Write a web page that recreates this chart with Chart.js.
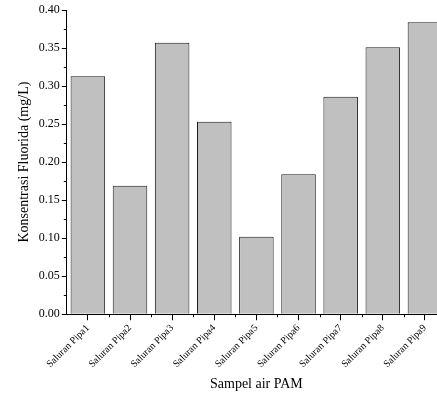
<!DOCTYPE html>
<html>
<head>
<meta charset="utf-8">
<script src="https://cdn.jsdelivr.net/npm/chart.js@4/dist/chart.umd.min.js"></script>
<style>
  html, body { margin: 0; padding: 0; background: #fff; overflow: hidden; }
  #wrap { width: 446px; height: 396px; }
</style>
</head>
<body>
<div id="wrap"><canvas id="fluoridaChart"></canvas></div>
<script>
const categories = ['Saluran Pipa1', 'Saluran Pipa2', 'Saluran Pipa3', 'Saluran Pipa4', 'Saluran Pipa5',
                    'Saluran Pipa6', 'Saluran Pipa7', 'Saluran Pipa8', 'Saluran Pipa9'];
const fluorida = [0.313, 0.169, 0.357, 0.253, 0.102, 0.184, 0.286, 0.351, 0.384];
const yTicks = [0.00, 0.05, 0.10, 0.15, 0.20, 0.25, 0.30, 0.35, 0.40];

const serif = "'Liberation Serif', 'Times New Roman', serif";

// small ticks: between y labels, and at category boundaries on x
const minorTicks = {
  id: 'minorTicks',
  afterDraw(chart) {
    const ctx = chart.ctx;
    const x = chart.scales.x, y = chart.scales.y;
    ctx.save();
    ctx.strokeStyle = '#000';
    ctx.lineWidth = 1;
    ctx.beginPath();
    for (let i = 0; i < yTicks.length - 1; i++) {
      const py = Math.round(y.getPixelForValue((yTicks[i] + yTicks[i + 1]) / 2)) + 0.5;
      ctx.moveTo(x.left - 3, py);
      ctx.lineTo(x.left, py);
    }
    for (let i = 1; i < categories.length; i++) {
      const px = Math.round((x.getPixelForValue(i - 1) + x.getPixelForValue(i)) / 2) + 0.5;
      ctx.moveTo(px, y.bottom);
      ctx.lineTo(px, y.bottom + 3);
    }
    ctx.stroke();
    ctx.restore();
  }
};

new Chart(document.getElementById('fluoridaChart').getContext('2d'), {
  type: 'bar',
  data: {
    labels: categories,
    datasets: [{
      data: fluorida,
      backgroundColor: '#c0c0c0',
      borderColor: '#1a1a1a',
      borderWidth: 1,
      barPercentage: 0.82,
      categoryPercentage: 1.0
    }]
  },
  options: {
    responsive: true,
    maintainAspectRatio: false,
    animation: false,
    layout: { padding: { top: 10, right: 0, left: 16, bottom: 3 } },
    plugins: {
      legend: { display: false },
      tooltip: { enabled: false }
    },
    scales: {
      x: {
        grid: { display: true, drawOnChartArea: false, offset: false, tickLength: 6, color: '#000' },
        border: { color: '#000', width: 1 },
        ticks: {
          color: '#000',
          font: { family: serif, size: 10 },
          minRotation: 45,
          maxRotation: 45,
          padding: 2
        },
        title: {
          display: true,
          text: 'Sampel air PAM',
          color: '#000',
          font: { family: serif, size: 14 },
          padding: { top: 4, bottom: 0 }
        }
      },
      y: {
        min: 0,
        max: 0.4,
        grid: { display: true, drawOnChartArea: false, tickLength: 5, color: '#000' },
        border: { color: '#000', width: 1 },
        afterBuildTicks: (axis) => { axis.ticks = yTicks.map(v => ({ value: v })); },
        ticks: {
          color: '#000',
          font: { family: serif, size: 12 },
          padding: 2,
          callback: (v) => Number(v).toFixed(2)
        },
        title: {
          display: true,
          text: 'Konsentrasi Fluorida (mg/L)',
          color: '#000',
          font: { family: serif, size: 14 },
          padding: { top: 0, bottom: 4 }
        }
      }
    }
  },
  plugins: [minorTicks]
});
</script>
</body>
</html>
